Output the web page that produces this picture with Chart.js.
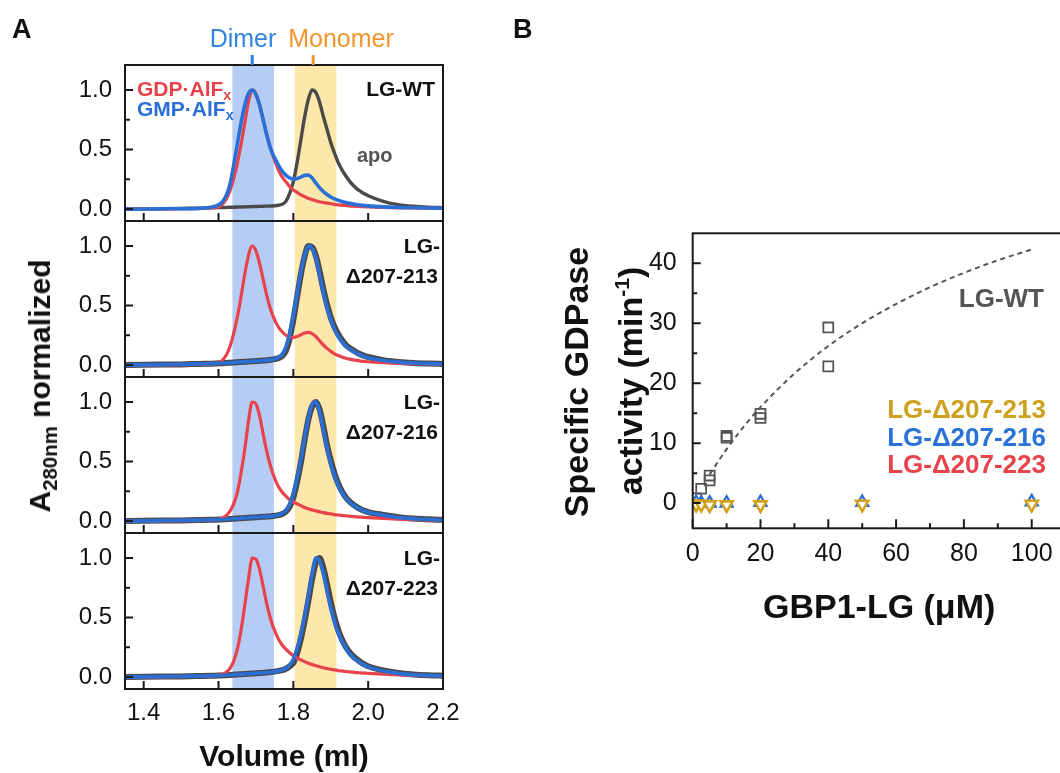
<!DOCTYPE html>
<html>
<head>
<meta charset="utf-8">
<script src="https://cdn.jsdelivr.net/npm/chart.js@4.4.1/dist/chart.umd.min.js"></script>
<style>
  html, body { margin: 0; padding: 0; background: #fff; }
  body { width: 1060px; height: 773px; overflow: hidden; position: relative;
         font-family: 'Liberation Sans', Arial, Helvetica, sans-serif; color: #111; }
  canvas { position: absolute; }
  .t { position: absolute; white-space: nowrap; line-height: 1; }
  .b { font-weight: bold; }
  .c { transform: translate(-50%, -50%); }
  .r { transform: translate(-100%, -50%); }
  .l { transform: translate(0, -50%); }
  .rot { transform: translate(-50%, -50%) rotate(-90deg); }
  sub { font-size: 0.68em; vertical-align: -0.32em; line-height: 0; }
  sup { font-size: 0.62em; vertical-align: 0.6em; line-height: 0; }
</style>
</head>
<body>
<canvas id="pWT" width="470" height="181" style="left:0;top:40px"></canvas>
<canvas id="p213" width="470" height="156" style="left:0;top:221px"></canvas>
<canvas id="p216" width="470" height="156" style="left:0;top:377px"></canvas>
<canvas id="p223" width="470" height="240" style="left:0;top:533px"></canvas>
<canvas id="pB" width="610" height="773" style="left:470px;top:0"></canvas>

<!-- panel letters -->
<div class="t b l" style="left:12px;top:29px;font-size:27px">A</div>
<div class="t b l" style="left:513px;top:29px;font-size:27px">B</div>

<!-- panel A annotations -->
<div class="t c" style="left:243px;top:38px;font-size:25px;color:#3385e0">Dimer</div>
<div class="t c" style="left:341px;top:38px;font-size:25px;color:#f2952f">Monomer</div>
<div class="t b l" style="left:137px;top:88px;font-size:21px;color:#e8434b">GDP·AlF<sub>x</sub></div>
<div class="t b l" style="left:137px;top:108px;font-size:21px;color:#2a6fd6">GMP·AlF<sub>x</sub></div>
<div class="t b r" style="left:435px;top:88px;font-size:21px">LG-WT</div>
<div class="t b l" style="left:357px;top:155px;font-size:20px;color:#555">apo</div>
<div class="t b r" style="left:440px;top:245px;font-size:21px">LG-</div>
<div class="t b r" style="left:438px;top:275px;font-size:21px">Δ207-213</div>
<div class="t b r" style="left:440px;top:401px;font-size:21px">LG-</div>
<div class="t b r" style="left:438px;top:431px;font-size:21px">Δ207-216</div>
<div class="t b r" style="left:440px;top:557px;font-size:21px">LG-</div>
<div class="t b r" style="left:438px;top:587px;font-size:21px">Δ207-223</div>
<div class="t b rot" style="left:40px;top:386px;font-size:30px">A<sub>280nm</sub> normalized</div>

<!-- panel B annotations -->
<div class="t b rot" style="left:576px;top:382px;font-size:34px">Specific GDPase</div>
<div class="t b rot" style="left:630px;top:381px;font-size:34px">activity (min<sup>-1</sup>)</div>
<div class="t b r" style="left:1044px;top:298px;font-size:26px;color:#555">LG-WT</div>
<div class="t b r" style="left:1046px;top:409px;font-size:26px;color:#cda11e">LG-Δ207-213</div>
<div class="t b r" style="left:1046px;top:437px;font-size:26px;color:#2a72d8">LG-Δ207-216</div>
<div class="t b r" style="left:1046px;top:464px;font-size:26px;color:#e8434b">LG-Δ207-223</div>

<script>
// ---------- elution profiles (A280 normalized vs elution volume, ml) ----------
const volume = [1.35, 1.40, 1.45, 1.50, 1.55,
  1.58, 1.59, 1.60, 1.61, 1.62, 1.63, 1.64, 1.65, 1.66, 1.67, 1.68, 1.69,
  1.70, 1.71, 1.72, 1.73, 1.74, 1.75, 1.76, 1.77, 1.78, 1.79,
  1.80, 1.81, 1.82, 1.83, 1.84, 1.85, 1.86, 1.87, 1.88, 1.89,
  1.90, 1.91, 1.92, 1.93, 1.94, 1.95, 1.96, 1.97, 1.98, 1.99, 2.00,
  2.04, 2.08, 2.12, 2.16, 2.20];

// LG-WT
const gdpWT = [0.000, 0.001, 0.002, 0.003, 0.006,
  0.010, 0.014, 0.020, 0.040, 0.080, 0.150, 0.250, 0.380, 0.540, 0.720, 0.900, 1.000,
  0.970, 0.870, 0.740, 0.610, 0.500, 0.410, 0.330, 0.270, 0.230, 0.190,
  0.160, 0.140, 0.120, 0.105, 0.090, 0.080, 0.070, 0.062, 0.055, 0.050,
  0.045, 0.040, 0.036, 0.033, 0.030, 0.027, 0.025, 0.023, 0.021, 0.020, 0.018,
  0.014, 0.011, 0.009, 0.008, 0.007];
const gmpWT = [0.000, 0.001, 0.002, 0.003, 0.006,
  0.015, 0.024, 0.035, 0.060, 0.110, 0.200, 0.360, 0.540, 0.720, 0.870, 0.970, 1.000,
  0.960, 0.870, 0.740, 0.610, 0.500, 0.430, 0.370, 0.320, 0.285, 0.262,
  0.252, 0.256, 0.268, 0.283, 0.285, 0.262, 0.220, 0.180, 0.148, 0.122,
  0.102, 0.086, 0.073, 0.063, 0.055, 0.048, 0.042, 0.037, 0.033, 0.030, 0.027,
  0.019, 0.014, 0.011, 0.009, 0.008];
const apoWT = [0.000, 0.002, 0.004, 0.006, 0.008,
  0.010, 0.011, 0.012, 0.013, 0.014, 0.015, 0.016, 0.017, 0.018, 0.019, 0.020, 0.021,
  0.022, 0.023, 0.024, 0.025, 0.026, 0.028, 0.032, 0.040, 0.065, 0.130,
  0.230, 0.390, 0.580, 0.770, 0.920, 1.000, 0.980, 0.900, 0.780, 0.670,
  0.560, 0.470, 0.390, 0.330, 0.280, 0.235, 0.200, 0.170, 0.148, 0.128, 0.112,
  0.065, 0.038, 0.024, 0.016, 0.012];

// LG-Δ207-213
const gdp213 = [0.000, 0.001, 0.002, 0.003, 0.006,
  0.010, 0.014, 0.020, 0.040, 0.080, 0.150, 0.260, 0.400, 0.570, 0.760, 0.920, 1.000,
  0.960, 0.850, 0.710, 0.570, 0.460, 0.380, 0.320, 0.280, 0.250, 0.235,
  0.232, 0.240, 0.255, 0.270, 0.275, 0.265, 0.240, 0.205, 0.170, 0.140,
  0.115, 0.095, 0.080, 0.068, 0.058, 0.050, 0.044, 0.039, 0.034, 0.031, 0.028,
  0.020, 0.014, 0.011, 0.009, 0.008];
const gmp213 = [0.000, 0.002, 0.004, 0.006, 0.010,
  0.012, 0.013, 0.015, 0.016, 0.018, 0.020, 0.022, 0.024, 0.026, 0.028, 0.030, 0.032,
  0.034, 0.036, 0.038, 0.041, 0.045, 0.052, 0.065, 0.090, 0.150, 0.260,
  0.420, 0.600, 0.780, 0.920, 1.000, 0.980, 0.900, 0.760, 0.610, 0.480,
  0.380, 0.300, 0.240, 0.195, 0.160, 0.135, 0.115, 0.098, 0.084, 0.072, 0.062,
  0.038, 0.025, 0.017, 0.012, 0.009];
const apo213 = [0.000, 0.002, 0.004, 0.006, 0.010,
  0.012, 0.013, 0.015, 0.016, 0.018, 0.020, 0.022, 0.024, 0.026, 0.028, 0.030, 0.032,
  0.034, 0.036, 0.038, 0.041, 0.045, 0.050, 0.058, 0.075, 0.120, 0.220,
  0.380, 0.570, 0.760, 0.910, 1.000, 0.990, 0.920, 0.790, 0.640, 0.510,
  0.400, 0.320, 0.260, 0.210, 0.170, 0.145, 0.125, 0.105, 0.090, 0.078, 0.068,
  0.042, 0.027, 0.018, 0.013, 0.010];

// LG-Δ207-216
const gdp216 = [0.000, 0.001, 0.002, 0.004, 0.007,
  0.010, 0.012, 0.015, 0.025, 0.045, 0.080, 0.140, 0.240, 0.400, 0.600, 0.840, 1.000,
  0.985, 0.880, 0.720, 0.570, 0.450, 0.360, 0.290, 0.245, 0.210, 0.180,
  0.160, 0.145, 0.130, 0.115, 0.104, 0.094, 0.086, 0.078, 0.071, 0.065,
  0.060, 0.055, 0.051, 0.047, 0.044, 0.041, 0.038, 0.035, 0.033, 0.031, 0.029,
  0.022, 0.017, 0.013, 0.011, 0.009];
const gmp216 = [0.000, 0.002, 0.004, 0.006, 0.009,
  0.011, 0.012, 0.013, 0.014, 0.016, 0.018, 0.020, 0.022, 0.024, 0.026, 0.028, 0.030,
  0.032, 0.034, 0.036, 0.038, 0.041, 0.045, 0.052, 0.065, 0.090, 0.140,
  0.230, 0.360, 0.520, 0.700, 0.860, 0.980, 1.000, 0.920, 0.770, 0.610,
  0.480, 0.380, 0.300, 0.240, 0.195, 0.160, 0.135, 0.115, 0.098, 0.085, 0.074,
  0.050, 0.030, 0.020, 0.014, 0.010];
const apo216 = [0.000, 0.002, 0.004, 0.006, 0.009,
  0.011, 0.012, 0.013, 0.014, 0.016, 0.018, 0.020, 0.022, 0.024, 0.026, 0.028, 0.030,
  0.032, 0.034, 0.036, 0.038, 0.041, 0.045, 0.050, 0.060, 0.080, 0.120,
  0.200, 0.330, 0.490, 0.680, 0.850, 0.960, 1.000, 0.940, 0.800, 0.640,
  0.510, 0.400, 0.315, 0.250, 0.200, 0.165, 0.138, 0.117, 0.100, 0.087, 0.076,
  0.052, 0.032, 0.021, 0.015, 0.011];

// LG-Δ207-223
const gdp223 = [0.000, 0.001, 0.002, 0.004, 0.007,
  0.010, 0.012, 0.014, 0.022, 0.040, 0.070, 0.130, 0.230, 0.390, 0.600, 0.820, 1.000,
  0.990, 0.900, 0.750, 0.600, 0.480, 0.390, 0.320, 0.270, 0.235, 0.205,
  0.180, 0.160, 0.145, 0.130, 0.117, 0.105, 0.095, 0.087, 0.079, 0.072,
  0.066, 0.060, 0.055, 0.051, 0.047, 0.044, 0.041, 0.038, 0.036, 0.034, 0.032,
  0.025, 0.019, 0.015, 0.012, 0.010];
const gmp223 = [0.000, 0.002, 0.004, 0.006, 0.009,
  0.011, 0.012, 0.013, 0.014, 0.016, 0.018, 0.020, 0.022, 0.024, 0.026, 0.028, 0.030,
  0.032, 0.034, 0.036, 0.039, 0.042, 0.046, 0.052, 0.060, 0.075, 0.100,
  0.150, 0.240, 0.360, 0.510, 0.680, 0.860, 1.000, 0.975, 0.870, 0.720,
  0.580, 0.460, 0.370, 0.300, 0.245, 0.200, 0.165, 0.140, 0.118, 0.100, 0.086,
  0.052, 0.031, 0.020, 0.014, 0.011];
const apo223 = [0.000, 0.002, 0.004, 0.006, 0.009,
  0.011, 0.012, 0.013, 0.014, 0.016, 0.018, 0.020, 0.022, 0.024, 0.026, 0.028, 0.030,
  0.032, 0.034, 0.036, 0.039, 0.042, 0.046, 0.052, 0.058, 0.070, 0.090,
  0.120, 0.200, 0.320, 0.470, 0.640, 0.820, 0.960, 1.000, 0.920, 0.780,
  0.630, 0.500, 0.395, 0.315, 0.255, 0.210, 0.175, 0.148, 0.125, 0.106, 0.091,
  0.056, 0.034, 0.022, 0.015, 0.012];

const volTicks = [1.4, 1.6, 1.8, 2.0, 2.2];
const absTicks = [0.0, 0.5, 1.0];
const absMinorTicks = [0.25, 0.75];
const dimerBand = [1.637, 1.748];
const monomerBand = [1.804, 1.915];
const dimerPeak = 1.69;
const monomerPeak = 1.853;

// ---------- GDPase activity vs GBP1-LG concentration ----------
const concWT = [1, 2.5, 5, 5, 10, 10, 20, 20, 40, 40];
const rateWT = [0.8, 2.4, 3.8, 4.6, 10.9, 11.2, 14.2, 14.9, 29.3, 22.8];
const fitConc = [5, 10, 15, 20, 30, 40, 50, 60, 70, 80, 90, 100];
const fitRate = [4.8, 9.0, 12.7, 16.0, 21.6, 26.2, 30.0, 33.2, 36.0, 38.4, 40.5, 42.3];
const concMut = [1, 2.5, 5, 10, 20, 50, 100];
const rate213 = [-0.2, -0.2, -0.3, -0.3, -0.3, -0.2, -0.2];
const rate216 = [0.1, 0.0, 0.0, 0.0, 0.1, 0.1, 0.2];
const rate223 = [0.1, 0.0, 0.0, 0.0, 0.1, 0.1, 0.2];
const concTicks = [0, 20, 40, 60, 80, 100];
const concMinorTicks = [10, 30, 50, 70, 90];
const rateTicks = [0, 10, 20, 30, 40];
const rateMinorTicks = [5, 15, 25, 35];

// ---------- styling ----------
const RED = '#e8434b', BLUE = '#2a6fd6', GRAY = '#4a4a4a', GOLD = '#d2a21c';
const FONT = "'Liberation Sans', Arial, Helvetica, sans-serif";
Chart.defaults.font.family = FONT;
Chart.defaults.color = '#111';

const pts = (xs, ys) => xs.map((x, i) => ({ x, y: ys[i] }));

// frame, inward tick marks and shaded bands drawn from the chart's own scales
function framePlugin(cfg) {
  return {
    id: 'frame',
    beforeDatasetsDraw(chart) {
      const { ctx, chartArea: a, scales: { x } } = chart;
      ctx.save();
      (cfg.bands || []).forEach(b => {
        const x0 = x.getPixelForValue(b.range[0]);
        const x1 = x.getPixelForValue(b.range[1]);
        ctx.fillStyle = b.color;
        ctx.fillRect(x0, a.top, x1 - x0, a.bottom - a.top);
      });
      ctx.restore();
    },
    afterDatasetsDraw(chart) {
      const { ctx, chartArea: a, scales: { x, y } } = chart;
      ctx.save();
      ctx.strokeStyle = '#1a1a1a';
      ctx.lineWidth = 2;
      ctx.beginPath();
      const xt = (vals, len) => vals.forEach(v => {
        const px = x.getPixelForValue(v);
        ctx.moveTo(px, a.bottom); ctx.lineTo(px, a.bottom - len);
      });
      const yt = (vals, len) => vals.forEach(v => {
        const py = y.getPixelForValue(v);
        ctx.moveTo(a.left, py); ctx.lineTo(a.left + len, py);
      });
      xt(cfg.xMajor, cfg.xMajorLen); xt(cfg.xMinor || [], cfg.xMinorLen || 0);
      yt(cfg.yMajor, cfg.yMajorLen); yt(cfg.yMinor || [], cfg.yMinorLen || 0);
      ctx.stroke();
      ctx.strokeRect(a.left, a.top, a.right - a.left, a.bottom - a.top);
      (cfg.markers || []).forEach(m => {
        const px = x.getPixelForValue(m.value);
        ctx.fillStyle = m.color;
        ctx.fillRect(px - 1.5, a.top - 10, 3, 10);
      });
      ctx.restore();
    }
  };
}

function line(data, color, width, order) {
  return {
    data: pts(volume, data), showLine: true, borderColor: color, borderWidth: width,
    pointRadius: 0, cubicInterpolationMode: 'monotone', order
  };
}

function chromatogram(id, gmp, gdp, apo, apoWidth, showX, padTop, markers) {
  new Chart(document.getElementById(id), {
    type: 'scatter',
    data: { datasets: [
      line(gmp, BLUE, 3.6, 1),
      line(gdp, RED, 3.2, 2),
      line(apo, GRAY, apoWidth, 3)
    ] },
    options: {
      responsive: false, animation: false, devicePixelRatio: 1,
      layout: { autoPadding: false, padding: { left: 0, right: 27, top: padTop, bottom: 0 } },
      plugins: { legend: { display: false }, tooltip: { enabled: false } },
      scales: {
        x: {
          type: 'linear', min: 1.35, max: 2.2, display: showX,
          afterBuildTicks: s => { s.ticks = volTicks.map(v => ({ value: v })); },
          afterFit: s => { if (showX) s.height = 84; s.paddingLeft = 0; s.paddingRight = 0; },
          grid: { display: false, drawTicks: false }, border: { display: false },
          ticks: { autoSkip: false, maxRotation: 0, padding: 9.5, color: '#111',
                   font: { size: 24 }, callback: v => v.toFixed(1) },
          title: { display: true, text: 'Volume (ml)', color: '#111',
                   font: { size: 30, weight: 'bold' }, padding: { top: 0, bottom: -3 } }
        },
        y: {
          type: 'linear', min: -0.1, max: 1.21,
          afterBuildTicks: s => { s.ticks = absTicks.map(v => ({ value: v })); },
          afterFit: s => { s.width = 125; s.paddingTop = 0; s.paddingBottom = 0; },
          grid: { display: false, drawTicks: false }, border: { display: false },
          ticks: { padding: 13, color: '#111', font: { size: 24 }, callback: v => v.toFixed(1) }
        }
      }
    },
    plugins: [framePlugin({
      bands: [{ range: dimerBand, color: 'rgb(181,204,244)' },
              { range: monomerBand, color: 'rgb(253,231,170)' }],
      xMajor: volTicks, xMajorLen: 8,
      yMajor: absTicks, yMajorLen: 8, yMinor: absMinorTicks, yMinorLen: 5,
      markers
    })]
  });
}

chromatogram('pWT', gmpWT, gdpWT, apoWT, 3.4, false, 25,
  [{ value: dimerPeak, color: '#2f80e6' }, { value: monomerPeak, color: '#f2952f' }]);
chromatogram('p213', gmp213, gdp213, apo213, 6, false, 0);
chromatogram('p216', gmp216, gdp216, apo216, 6, false, 0);
chromatogram('p223', gmp223, gdp223, apo223, 6, true, 0);

// ---------- panel B ----------
new Chart(document.getElementById('pB'), {
  type: 'scatter',
  data: { datasets: [
    { label: 'LG-Δ207-213', data: pts(concMut, rate213), pointStyle: 'triangle', pointRotation: 180,
      pointRadius: 7, pointBorderColor: GOLD, pointBackgroundColor: '#fff', pointBorderWidth: 2.6, order: 1 },
    { label: 'LG-Δ207-216', data: pts(concMut, rate216), pointStyle: 'triangle',
      pointRadius: 7, pointBorderColor: BLUE, pointBackgroundColor: 'rgba(0,0,0,0)', pointBorderWidth: 2.2, order: 2 },
    { label: 'LG-Δ207-223', data: pts(concMut, rate223), pointStyle: 'triangle',
      pointRadius: 7, pointBorderColor: RED, pointBackgroundColor: 'rgba(0,0,0,0)', pointBorderWidth: 1.4, order: 3 },
    { label: 'LG-WT', data: pts(concWT, rateWT), pointStyle: 'rect',
      pointRadius: 7, pointBorderColor: '#555', pointBackgroundColor: 'rgba(0,0,0,0)', pointBorderWidth: 1.8, order: 4 },
    { label: 'LG-WT fit', data: pts(fitConc, fitRate), showLine: true, borderColor: '#555', borderWidth: 2,
      borderDash: [5, 4], pointRadius: 0, cubicInterpolationMode: 'monotone', order: 5 }
  ] },
  options: {
    responsive: false, animation: false, devicePixelRatio: 1,
    layout: { autoPadding: false, padding: { left: 0, right: 14.4, top: 233.3, bottom: 0 } },
    plugins: { legend: { display: false }, tooltip: { enabled: false } },
    scales: {
      x: {
        type: 'linear', min: 0, max: 110,
        afterBuildTicks: s => { s.ticks = concTicks.map(v => ({ value: v })); },
        afterFit: s => { s.height = 244.7; s.paddingLeft = 0; s.paddingRight = 0; },
        grid: { display: false, drawTicks: false }, border: { display: false },
        ticks: { autoSkip: false, maxRotation: 0, padding: 10.7, color: '#111', font: { size: 25 } },
        title: { display: true, text: 'GBP1-LG (μM)', color: '#111',
                 font: { size: 34, weight: 'bold' }, padding: { top: 0, bottom: 144 } }
      },
      y: {
        type: 'linear', min: -4.2, max: 45,
        afterBuildTicks: s => { s.ticks = rateTicks.map(v => ({ value: v })); },
        afterFit: s => { s.width = 222.7; s.paddingTop = 0; s.paddingBottom = 0; },
        grid: { display: false, drawTicks: false }, border: { display: false },
        ticks: { padding: 16, color: '#111', font: { size: 25 } }
      }
    }
  },
  plugins: [framePlugin({
    xMajor: concTicks, xMajorLen: 9, xMinor: concMinorTicks, xMinorLen: 5,
    yMajor: rateTicks, yMajorLen: 8, yMinor: rateMinorTicks, yMinorLen: 4.5
  })]
});
</script>
</body>
</html>
